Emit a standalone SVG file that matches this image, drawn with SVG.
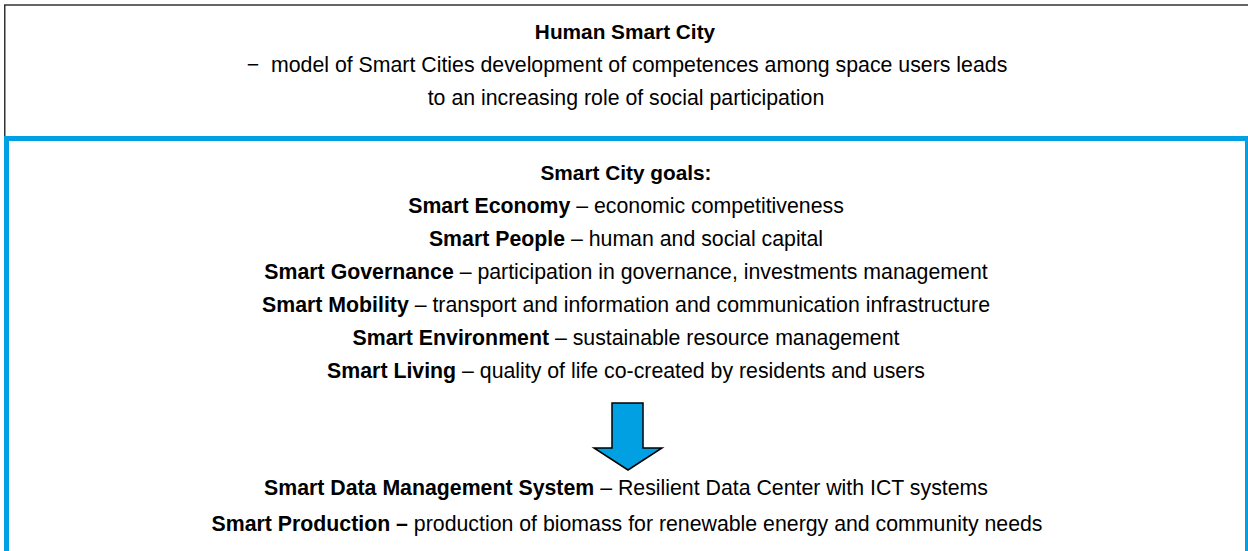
<svg xmlns="http://www.w3.org/2000/svg" width="1248" height="551" viewBox="0 0 1248 551">
<style>
text{font-family:"Liberation Sans",Arial,sans-serif;font-size:21.3px;fill:#000;text-anchor:middle;white-space:pre}
.b{font-weight:bold}
.h{font-size:20.8px}
</style>
<rect width="1248" height="551" fill="#fff"/>
<g id="human-smart-city">
<path d="M4.75,138 V5 H1250" fill="none" stroke="#333" stroke-width="1.5"/>
<text x="625" y="38.5" class="b h">Human Smart City</text>
<text x="627" y="72">−  model of Smart Cities development of competences among space users leads</text>
<text x="626" y="105">to an increasing role of social participation</text>
</g>
<g id="smart-city-goals">
<rect x="6.5" y="138.5" width="1241" height="440" fill="none" stroke="#00A0E3" stroke-width="5"/>
<text x="626" y="180" class="b h">Smart City goals:</text>
<text x="626" y="213"><tspan class="b">Smart Economy</tspan> – economic competitiveness</text>
<text x="626" y="246"><tspan class="b">Smart People</tspan> – human and social capital</text>
<text x="626" y="279"><tspan class="b">Smart Governance</tspan> – participation in governance, investments management</text>
<text x="626" y="312"><tspan class="b">Smart Mobility</tspan> – transport and information and communication infrastructure</text>
<text x="626" y="345"><tspan class="b">Smart Environment</tspan> – sustainable resource management</text>
<text x="626" y="378"><tspan class="b">Smart Living</tspan> – quality of life co-created by residents and users</text>
</g>
<g id="connectors">
<path d="M612,403 H643 V448 H662 L628,470 L594,448 H612 Z" fill="#00A0E3" stroke="#000" stroke-width="1.5" stroke-linejoin="miter"/>
</g>
<g id="outcomes">
<text x="626" y="495"><tspan class="b">Smart Data Management System</tspan> – Resilient Data Center with ICT systems</text>
<text x="627" y="531"><tspan class="b">Smart Production –</tspan> production of biomass for renewable energy and community needs</text>
</g>
</svg>
